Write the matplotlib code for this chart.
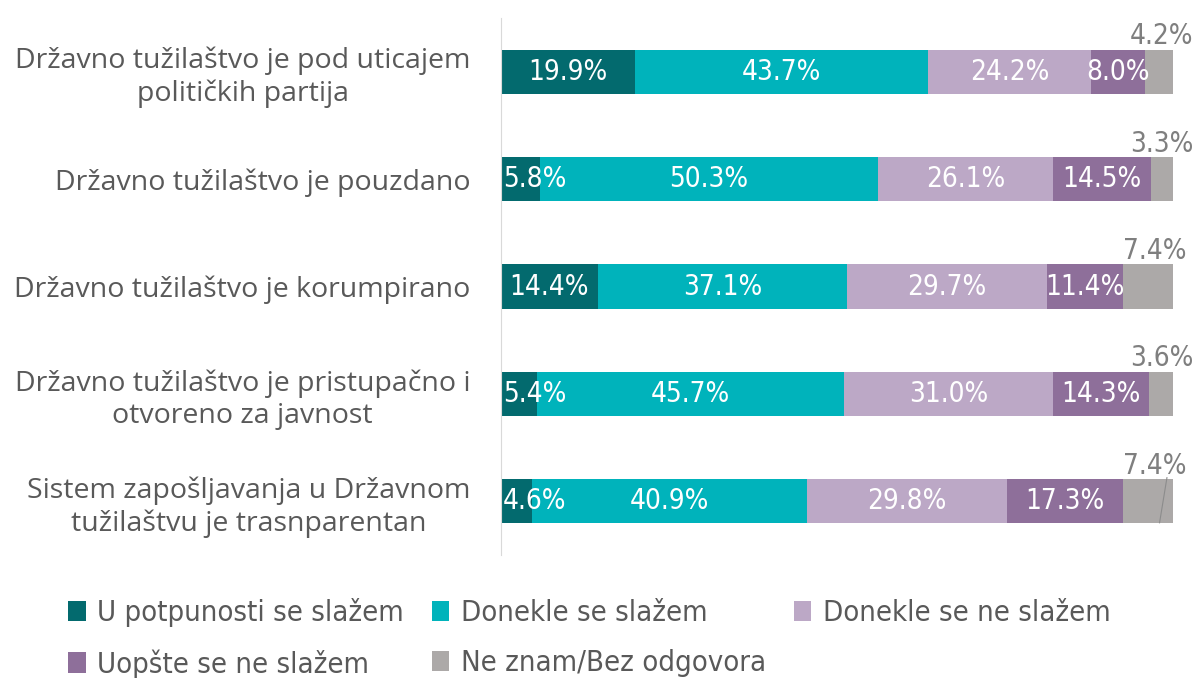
import matplotlib.pyplot as plt
import numpy as np
from matplotlib import font_manager

categories = [
    "Državno tužilaštvo je pod uticajem\npolitičkih partija",
    "Državno tužilaštvo je pouzdano",
    "Državno tužilaštvo je korumpirano",
    "Državno tužilaštvo je pristupačno i\notvoreno za javnost",
    "Sistem zapošljavanja u Državnom\ntužilaštvu je trasnparentan",
]
series_names = [
    "U potpunosti se slažem",
    "Donekle se slažem",
    "Donekle se ne slažem",
    "Uopšte se ne slažem",
    "Ne znam/Bez odgovora",
]
u_potpunosti = [19.9, 5.8, 14.4, 5.4, 4.6]
donekle_da = [43.7, 50.3, 37.1, 45.7, 40.9]
donekle_ne = [24.2, 26.1, 29.7, 31.0, 29.8]
uopste_ne = [8.0, 14.5, 11.4, 14.3, 17.3]
ne_znam = [4.2, 3.3, 7.4, 3.6, 7.4]

colors = ["#036a6e", "#00b3bb", "#bca8c6", "#8e6f9a", "#aca9a8"]
LABEL_FONT = ["Open Sans", "DejaVu Sans"]
NARROW = font_manager.FontProperties(family="DejaVu Sans", stretch="condensed")

fig = plt.figure(figsize=(11.96, 6.78), dpi=100)
ax = fig.add_axes([501 / 1196, 123 / 678, 672 / 1196, 537 / 678])

data = np.array([u_potpunosti, donekle_da, donekle_ne, uopste_ne, ne_znam])
y = np.arange(len(categories))
left = np.zeros(len(categories))
handles = []
for k, (vals, col, name) in enumerate(zip(data, colors, series_names)):
    bars = ax.barh(y, vals, left=left, height=0.41, color=col, label=name)
    handles.append(bars)
    for i, v in enumerate(vals):
        if k < 4:
            if v < 7:
                ax.text(left[i] + 0.3, y[i], f"{v:.1f}%", ha="left", va="center",
                        color="white", fontsize=20, fontproperties=NARROW)
            else:
                ax.text(left[i] + v / 2, y[i], f"{v:.1f}%", ha="center", va="center",
                        color="white", fontsize=20, fontproperties=NARROW)
        else:
            # label sits above the bar end
            tx = 103 if v < 5 else 102
            ax.text(tx, y[i] - 0.33, f"{v:.1f}%", ha="right", va="center",
                    color="#7f7f7f", fontproperties=NARROW, fontsize=20)
    left += vals

# leader line for the last bar's gray label
ax.plot([99.1, 98.0], [y[4] - 0.22, y[4] + 0.2], color="#8c8c8c", lw=0.8)

ax.set_xlim(0, 100)
ax.set_ylim(4.5, -0.5)
ax.set_xticks([])
ax.set_yticks(y)
ax.set_yticklabels(categories, fontsize=20.5, color="#595959", family=LABEL_FONT,
                   multialignment="center", linespacing=1.2)
ax.tick_params(axis="y", length=0, pad=22)
for s in ["top", "right", "bottom"]:
    ax.spines[s].set_visible(False)
ax.spines["left"].set_color("#d9d9d9")

order = [0, 3, 1, 4, 2]
leg_prop = NARROW.copy()
leg_prop.set_size(21)
leg = fig.legend([handles[i] for i in order], [series_names[i] for i in order],
                 ncol=3, loc="lower left", bbox_to_anchor=(42 / 1196, -0.04),
                 frameon=False, handlelength=0.6, handleheight=0.7,
                 handletextpad=0.4, columnspacing=0.95, labelspacing=0.75,
                 prop=leg_prop)
for t in leg.get_texts():
    t.set_color("#595959")

fig.savefig("out.png", dpi=100)
